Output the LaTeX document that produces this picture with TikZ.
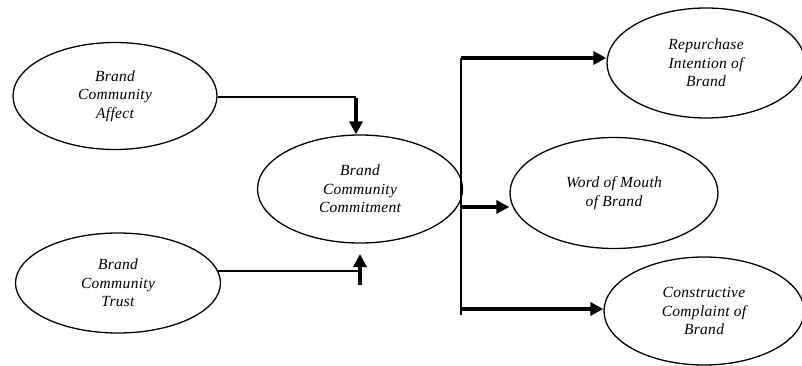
\documentclass[tikz,border=0pt]{standalone}
\usepackage{fontspec}
\setmainfont{Liberation Serif}[LetterSpace=2]
\usetikzlibrary{shapes.geometric,arrows.meta}
\begin{document}
\begin{tikzpicture}[x=1pt,y=-1pt,
  ell/.style={draw,ellipse,line width=1.3pt,inner sep=0pt,align=center,
    font=\fontsize{15.5}{18.5}\selectfont\itshape},
  thinline/.style={line width=1.4pt},
  thickarrow/.style={line width=3.2pt,-{Triangle[length=13pt,width=13pt]}}]
\useasboundingbox (0,0) rectangle (802,366);
\node[ell,minimum width=204pt,minimum height=107pt] (aff) at (115,96) {Brand\\Community\\Affect};
\node[ell,minimum width=205pt,minimum height=100pt] (tru) at (118,283) {Brand\\Community\\Trust};
\node[ell,minimum width=205pt,minimum height=108pt] (com) at (360,189) {Brand\\Community\\Commitment};
\node[ell,minimum width=198pt,minimum height=110pt] (rep) at (706,63) {Repurchase\\Intention of\\Brand};
\node[ell,minimum width=208pt,minimum height=111pt] (wom) at (614,193) {Word of Mouth\\of Brand};
\node[ell,minimum width=200pt,minimum height=108pt] (con) at (704,311) {Constructive\\Complaint of\\Brand};
% Affect -> Commitment
\coordinate (a1) at (356,97);
\draw[thinline] (aff.east |- a1) -- (a1);
\draw[thickarrow] ([yshift=-1pt]a1) -- (a1 |- com.north);
% Trust -> Commitment
\coordinate (t1) at (360,271);
\coordinate (t2) at (360,285);
\coordinate (t3) at (360,254);
\draw[thinline] ([xshift=-3pt]tru.east |- t1) -- (t1);
\draw[thickarrow] (t2) -- (t3);
% Commitment -> outcomes
\coordinate (b1) at (461,58);
\coordinate (b2) at (461,207);
\coordinate (b3) at (461,315);
\coordinate (b4) at (461,309);
\draw[thinline] (b1) -- (b3);
\draw[thickarrow] (b1) -- (b1 -| rep.west);
\draw[thickarrow] (b2) -- (b2 -| wom.west);
\draw[thickarrow] (b4) -- (b4 -| con.west);
\end{tikzpicture}
\end{document}
